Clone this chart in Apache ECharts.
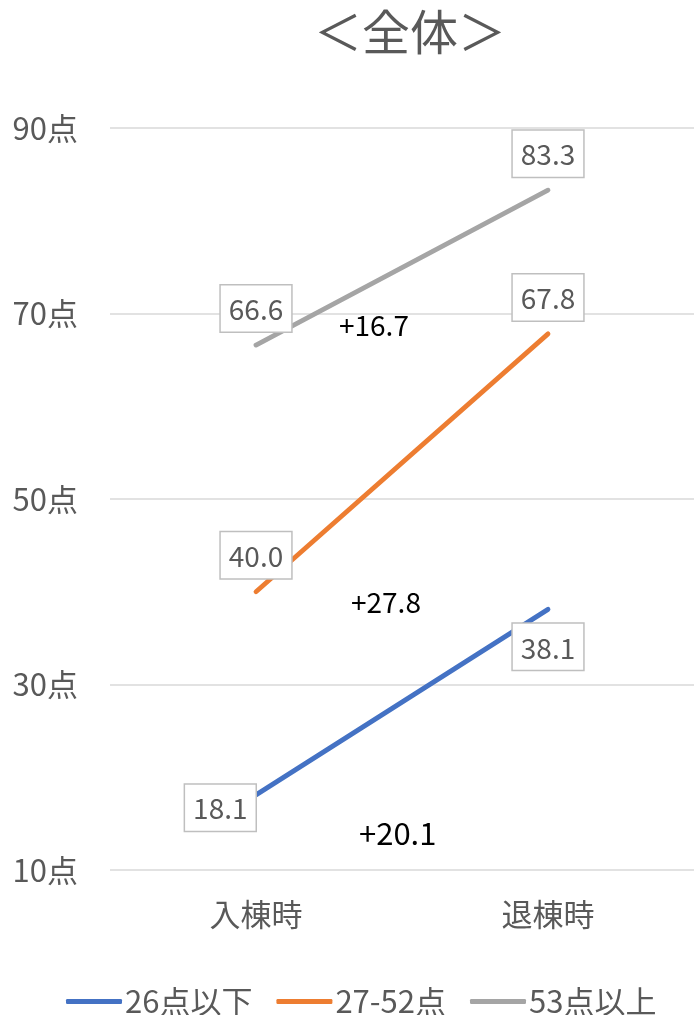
<!DOCTYPE html>
<html><head><meta charset="utf-8">
<script src="https://cdn.jsdelivr.net/npm/echarts@6/dist/echarts.min.js"></script>
<style>html,body{margin:0;padding:0;background:#fff}#c{width:694px;height:1015px}</style>
</head><body><div id="c"></div>
<script>
const categories = ['入棟時', '退棟時'];
const seriesNames = ['26点以下', '27-52点', '53点以上'];
const low = [18.1, 38.1];
const mid = [40.0, 67.8];
const high = [66.6, 83.3];
const gains = ['+20.1', '+27.8', '+16.7'];
const yTicks = [10, 30, 50, 70, 90];

const FONT = '"Noto Sans CJK JP", "Noto Sans", sans-serif';
const colors = ['#4472C4', '#ED7D31', '#A5A5A5'];
const allValues = [low, mid, high];

const boxLabel = {
  show: true, fontFamily: FONT, fontSize: 28, color: '#595959',
  backgroundColor: '#fff', borderColor: '#bfbfbf', borderWidth: 1.5,
  padding: [10, 8, 8, 8], distance: 13,
  formatter: p => p.value.toFixed(1)
};

function pointLabel(si, i) {
  if (si === 0 && i === 0) return Object.assign({}, boxLabel, {position: 'left', distance: 0, offset: [0, 13]});
  if (si === 0 && i === 1) return Object.assign({}, boxLabel, {position: 'bottom', distance: 14});
  return Object.assign({}, boxLabel, {position: 'top'});
}

const series = allValues.map((vals, si) => ({
  name: seriesNames[si], type: 'line', symbol: 'circle', symbolSize: 1, showSymbol: true,
  lineStyle: {width: 4.8, color: colors[si], cap: 'round'},
  itemStyle: {color: colors[si]},
  z: 2,
  data: vals.map((v, i) => ({value: v, label: pointLabel(si, i)})),
  label: {show: true}
}));

const chart = echarts.init(document.getElementById('c'));
chart.setOption({
  animation: false,
  title: {
    text: '＜全体＞', left: 405, top: 3, textAlign: 'center',
    textStyle: {fontFamily: FONT, fontSize: 48, fontWeight: 'normal', color: '#595959'}
  },
  legend: {
    left: 61, top: 981, itemWidth: 56, itemHeight: 5, itemGap: 24,
    icon: 'roundRect',
    textStyle: {fontFamily: FONT, fontSize: 31, color: '#595959', padding: [0, 0, 0, -2]},
    data: seriesNames
  },
  grid: {left: 110, right: -4, top: 128, bottom: 145},
  xAxis: {
    type: 'category', data: categories, boundaryGap: true,
    axisLine: {show: false}, axisTick: {show: false},
    axisLabel: {fontFamily: FONT, fontSize: 31, color: '#595959', margin: 29}
  },
  yAxis: {
    type: 'value', min: yTicks[0], max: yTicks[yTicks.length - 1], interval: 20,
    axisLine: {show: false}, axisTick: {show: false},
    splitLine: {lineStyle: {color: '#d9d9d9', width: 1.5}},
    axisLabel: {fontFamily: FONT, fontSize: 31, color: '#595959', margin: 32, formatter: v => v + '点'}
  },
  series: series,
  graphic: [
    {type: 'text', left: 359, top: 818, z: 10, style: {text: gains[0], fontFamily: FONT, fontSize: 31, fill: '#000'}},
    {type: 'text', left: 351, top: 588, z: 10, style: {text: gains[1], fontFamily: FONT, fontSize: 28, fill: '#000'}},
    {type: 'text', left: 339, top: 311, z: 10, style: {text: gains[2], fontFamily: FONT, fontSize: 28, fill: '#000'}}
  ]
});
</script></body></html>
